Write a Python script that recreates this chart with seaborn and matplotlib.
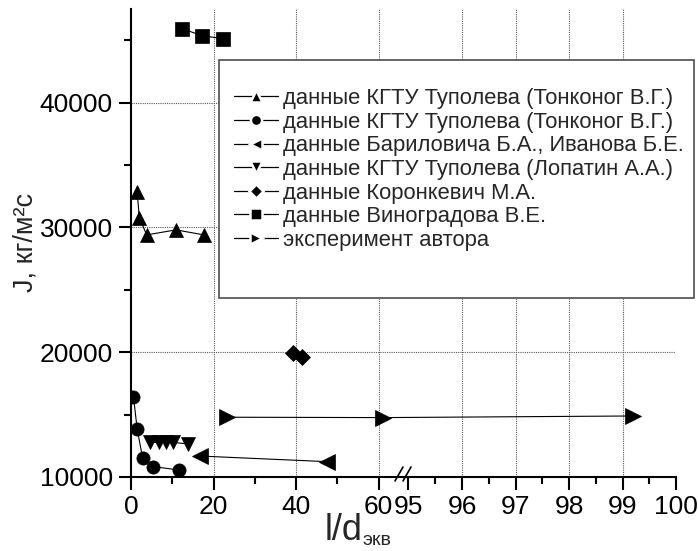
import numpy as np
import matplotlib
matplotlib.use("Agg")
import matplotlib.pyplot as plt
import seaborn as sns
from matplotlib.ticker import FixedLocator, NullFormatter, FixedFormatter
from matplotlib.patches import Rectangle
from matplotlib.lines import Line2D

# ---------------- data ----------------
labels = [
    "данные КГТУ Туполева (Тонконог В.Г.)",
    "данные КГТУ Туполева (Тонконог В.Г.)",
    "данные Бариловича Б.А., Иванова Б.Е.",
    "данные КГТУ Туполева (Лопатин А.А.)",
    "данные Коронкевич М.А.",
    "данные Виноградова В.Е.",
    "эксперимент автора",
]
tonk1_x = [1.5, 2.0, 3.8, 10.9, 17.7]
tonk1_y = [32830, 30790, 29400, 29800, 29400]
tonk2_x = [0.6, 1.5, 2.8, 5.4, 11.7]
tonk2_y = [16440, 13830, 11550, 10830, 10560]
bar_x = [16.7, 47.5]
bar_y = [11680, 11230]
lop_x = [4.6, 6.9, 8.6, 10.2, 13.9]
lop_y = [12770, 12770, 12770, 12770, 12650]
kor_x = [39.2, 41.4]
kor_y = [19920, 19650]
vin_x = [12.4, 17.1, 22.4]
vin_y = [45930, 45370, 45120]
exp_x = [23.2, 61.0, 99.2]
exp_y = [14790, 14760, 14890]

x_major = [0, 20, 40, 60, 95, 96, 97, 98, 99, 100]
x_minor = [10, 30, 50, 95.5, 96.5, 97.5, 98.5, 99.5]
y_major = [10000, 20000, 30000, 40000]
y_minor = [15000, 25000, 35000, 45000]

# ---------------- style ----------------
sns.set_style("white")
plt.rcParams["font.family"] = ["Liberation Sans", "DejaVu Sans"]

W, H = 698, 551
fig = plt.figure(figsize=(W / 100, H / 100), dpi=100)

def fx(px):
    return px / W

def fy(py):
    return 1 - py / H

ax = fig.add_axes([fx(131), fy(477), fx(676) - fx(131), fy(9) - fy(477)])

# broken x scale (0..62 linear, compressed gap, 95..100 expanded)
A = 4.125
G_END = 62.0
U_G = A * G_END
U_R = 277.5
GS = (U_R - U_G) / (95 - G_END)
RS = 53.5

def fwd(x):
    x = np.asarray(x, dtype=float)
    return np.where(x <= G_END, A * x,
                    np.where(x < 95, U_G + (x - G_END) * GS, U_R + (x - 95) * RS))

def inv(u):
    u = np.asarray(u, dtype=float)
    return np.where(u <= U_G, u / A,
                    np.where(u < U_R, G_END + (u - U_G) / GS, 95 + (u - U_R) / RS))

ax.set_xscale("function", functions=(fwd, inv))
ax.set_xlim(0, 100)
ax.set_ylim(10000, 47500)

series = [
    (tonk1_x, tonk1_y, "^", 10),
    (tonk2_x, tonk2_y, "o", 9.5),
    (bar_x, bar_y, "<", 11),
    (lop_x, lop_y, "v", 10),
    (kor_x, kor_y, "D", 8),
    (vin_x, vin_y, "s", 9.5),
    (exp_x, exp_y, ">", 11),
]
proxies = []
for (xs, ys, m, ms), lab in zip(series, labels):
    sns.lineplot(x=xs, y=ys, ax=ax, color="black", marker=m, markersize=ms,
                 markeredgecolor="black", markeredgewidth=0.5, lw=0.8,
                 sort=False, estimator=None, zorder=3, legend=False)
    proxies.append(Line2D([], [], color="black", lw=0.9, marker=m,
                          markersize=ms * 0.85, markerfacecolor="black",
                          markeredgecolor="white", markeredgewidth=1.8))

if ax.get_legend() is not None:
    ax.get_legend().remove()

# ticks
ax.xaxis.set_major_locator(FixedLocator(x_major))
ax.xaxis.set_minor_locator(FixedLocator(x_minor))
ax.xaxis.set_major_formatter(FixedFormatter([str(v) for v in x_major]))
ax.xaxis.set_minor_formatter(NullFormatter())
ax.yaxis.set_major_locator(FixedLocator(y_major))
ax.yaxis.set_minor_locator(FixedLocator(y_minor))
ax.yaxis.set_major_formatter(FixedFormatter([str(v) for v in y_major]))
ax.yaxis.set_minor_formatter(NullFormatter())
ax.tick_params(which="major", direction="out", length=9, width=1.5, labelsize=19,
               color="black", labelcolor="black", pad=4)
ax.tick_params(which="minor", direction="out", length=5, width=1.5, color="black")
ax.tick_params(axis="x", which="both", bottom=True)
ax.tick_params(axis="y", which="both", left=True)

for s in ["top", "right"]:
    ax.spines[s].set_visible(False)
for s in ["left", "bottom"]:
    ax.spines[s].set_color("black")
    ax.spines[s].set_linewidth(1.5)

ax.grid(True, which="major", linestyle=(0, (1, 1)), color="0.35", lw=0.8)
for v, gl in zip(x_major, ax.xaxis.get_gridlines()):
    if v in (0, 95, 100):
        gl.set_visible(False)
for v, gl in zip(y_major, ax.yaxis.get_gridlines()):
    if v == 10000:
        gl.set_visible(False)

# axis labels
ax.set_ylabel("J, кг/м²с", fontsize=19.5, labelpad=1)
fig.text(fx(325), fy(540), "l/d", fontsize=26, ha="left", va="baseline")
fig.text(fx(362), fy(545), "экв", fontsize=14, ha="left", va="baseline")

# break marks
for x0 in (395, 403):
    fig.add_artist(Line2D([fx(x0), fx(x0 + 8)], [fy(481), fy(467)],
                          color="black", lw=1.2, transform=fig.transFigure))

# legend frame + legend
fig.add_artist(Rectangle((fx(219), fy(298)), fx(694) - fx(219), fy(60) - fy(298),
                         transform=fig.transFigure, facecolor="white",
                         edgecolor="0.3", lw=1.2, zorder=2))
fig.legend(proxies, labels, loc="upper left", bbox_to_anchor=(fx(234), fy(88)),
           frameon=False, fontsize=15.8, markerscale=1.0, handlelength=2.0,
           handletextpad=0.25, labelspacing=0.12, borderpad=0, borderaxespad=0)

fig.savefig("out.png", dpi=100)
